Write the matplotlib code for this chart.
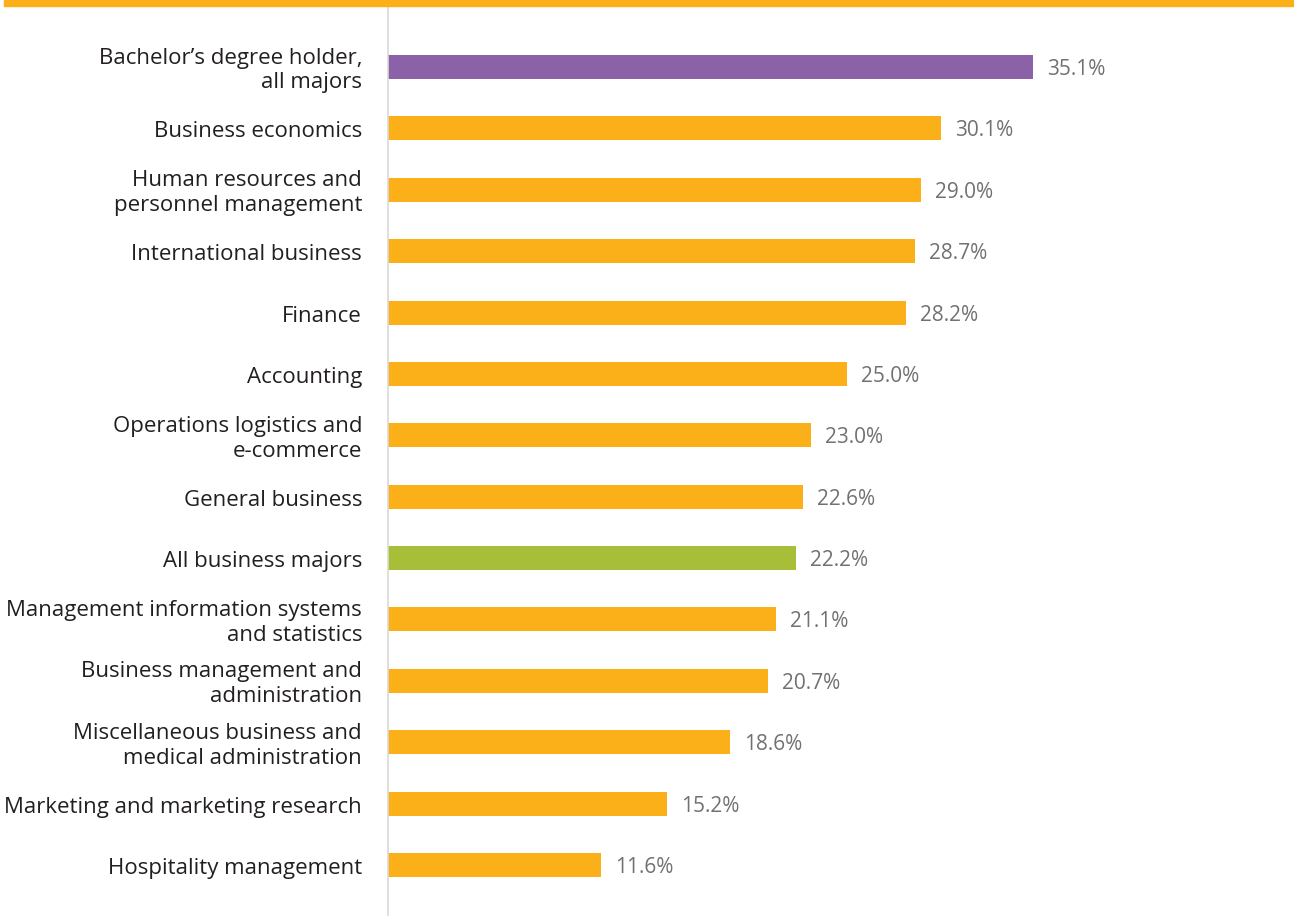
import matplotlib
matplotlib.use("Agg")
import matplotlib.pyplot as plt
from matplotlib.patches import Rectangle

categories = [
    "Bachelor\u2019s degree holder,\nall majors",
    "Business economics",
    "Human resources and\npersonnel management",
    "International business",
    "Finance",
    "Accounting",
    "Operations logistics and\ne-commerce",
    "General business",
    "All business majors",
    "Management information systems\nand statistics",
    "Business management and\nadministration",
    "Miscellaneous business and\nmedical administration",
    "Marketing and marketing research",
    "Hospitality management",
]
values = [35.1, 30.1, 29.0, 28.7, 28.2, 25.0, 23.0, 22.6, 22.2, 21.1, 20.7, 18.6, 15.2, 11.6]
value_labels = ["35.1%", "30.1%", "29.0%", "28.7%", "28.2%", "25.0%", "23.0%",
                "22.6%", "22.2%", "21.1%", "20.7%", "18.6%", "15.2%", "11.6%"]

ORANGE = "#FBB01A"
PURPLE = "#8B62A8"
GREEN = "#A6BE38"
colors = [PURPLE] + [ORANGE] * 7 + [GREEN] + [ORANGE] * 5

W, H = 1294, 916
fig = plt.figure(figsize=(W / 100, H / 100), dpi=100)
fig.patch.set_facecolor("white")

left_px, right_px = 388, 1294
top_px, bot_px = 7, 916
ax = fig.add_axes([left_px / W, 1 - bot_px / H, (right_px - left_px) / W, (bot_px - top_px) / H])

pxu = (1033 - 388) / 35.1
ax.set_xlim(0, (right_px - left_px) / pxu)
sp = 61.38
ax.set_ylim(13 + (916 - 865) / sp, -(67 - 7) / sp)

ypos = list(range(len(values)))
ax.barh(ypos, values, height=24 / sp, color=colors, align="center")

font = "Open Sans"
for y, v, lab in zip(ypos, values, value_labels):
    ax.text(v + 14 / pxu, y + 2.5 / sp, lab, va="center", ha="left", fontsize=15,
            color="#707173", family=font)

ax.set_yticks([])
for y, lab in zip(ypos, categories):
    ax.text(-26 / pxu, y + 3.5 / sp, lab, ha="right", va="center", fontsize=16,
            color="#231f20", family=font, linespacing=1.24, clip_on=False)

ax.set_xticks([])
for s in ["top", "right", "bottom"]:
    ax.spines[s].set_visible(False)
ax.spines["left"].set_color("#d9d9d9")
ax.spines["left"].set_linewidth(1.2)

fig.patches.append(Rectangle((4 / W, 1 - 6 / H), 1 - 4 / W, 6 / H,
                             transform=fig.transFigure, color=ORANGE, zorder=10))

fig.savefig("out.png", dpi=100)
